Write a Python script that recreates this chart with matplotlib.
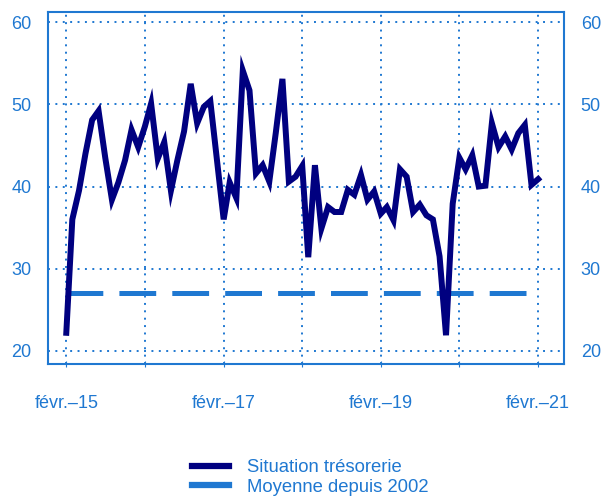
import numpy as np
import pandas as pd
import matplotlib
matplotlib.use('Agg')
import matplotlib.pyplot as plt
import matplotlib.dates as mdates
from matplotlib.lines import Line2D

# données mensuelles, févr. 2015 -> févr. 2021
mois = pd.date_range('2015-02-01', periods=73, freq='MS')
tresorerie = [
    22.2, 36.0, 39.5, 44.0, 48.1, 49.2, 43.5, 38.4, 40.5, 43.2, 46.9, 44.8,
    47.3, 50.1, 43.4, 45.4, 39.5, 43.2, 46.7, 52.5, 47.7, 49.7, 50.4, 43.2,
    36.0, 40.5, 38.6, 54.1, 51.7, 41.6, 42.6, 40.6, 46.5, 53.1, 40.6, 41.2,
    42.5, 31.4, 42.6, 34.9, 37.5, 36.9, 36.9, 39.6, 39.0, 41.4, 38.4, 39.4,
    36.7, 37.5, 35.9, 42.1, 41.2, 36.9, 37.8, 36.5, 36.0, 31.5, 21.9, 37.9,
    43.5, 42.1, 43.8, 40.0, 40.1, 47.7, 44.8, 46.1, 44.5, 46.5, 47.5, 40.2,
    40.9,
]
moyenne = 27.1

bleu = '#1f78d1'
marine = '#000080'

plt.rcParams['font.family'] = ['Liberation Sans', 'DejaVu Sans']

fig = plt.figure(figsize=(6.03, 4.96), dpi=100)
ax = fig.add_axes([0.0796, 0.2661, 0.8557, 0.7107])

ax.plot(mois, tresorerie, color=marine, linewidth=4.3, zorder=3,
        solid_joinstyle='miter')
ax.plot(mois, [moyenne] * len(mois), color=bleu, linewidth=3.6,
        dashes=(7.36, 3.22), zorder=2)

# axes
ax.set_ylim(18.4, 61.3)
ax.set_yticks([20, 30, 40, 50, 60])
ax.set_xlim(pd.Timestamp('2014-11-08'), pd.Timestamp('2021-06-01'))
ax.xaxis.set_major_locator(mdates.MonthLocator(bymonth=2))


def fmt_date(x, pos):
    d = mdates.num2date(x)
    if d.year % 2 == 1:
        return 'févr.–%02d' % (d.year % 100)
    return ''


ax.xaxis.set_major_formatter(plt.FuncFormatter(fmt_date))
ax.grid(True, color=bleu, linestyle=(0, (1, 2.8)), linewidth=1.4)
for s in ax.spines.values():
    s.set_color(bleu)
    s.set_linewidth(1.5)
ax.tick_params(axis='y', length=0, pad=12, labelsize=13, labelcolor=bleu,
               labelright=True)
ax.tick_params(axis='x', length=4, direction='inout', color=bleu, pad=20,
               labelsize=13, labelcolor=bleu)

# légende
poignees = [Line2D([], [], color=marine, linewidth=4.5),
            Line2D([], [], color=bleu, linewidth=4.5)]
fig.legend(poignees, ['Situation trésorerie', 'Moyenne depuis 2002'],
           loc='upper left', bbox_to_anchor=(0.318, 0.074),
           frameon=False, fontsize=13.3, labelcolor=bleu, handlelength=2.0,
           handletextpad=1.0, labelspacing=0.12, borderpad=0.0,
           borderaxespad=0.0)

fig.savefig('out.png', dpi=100)
